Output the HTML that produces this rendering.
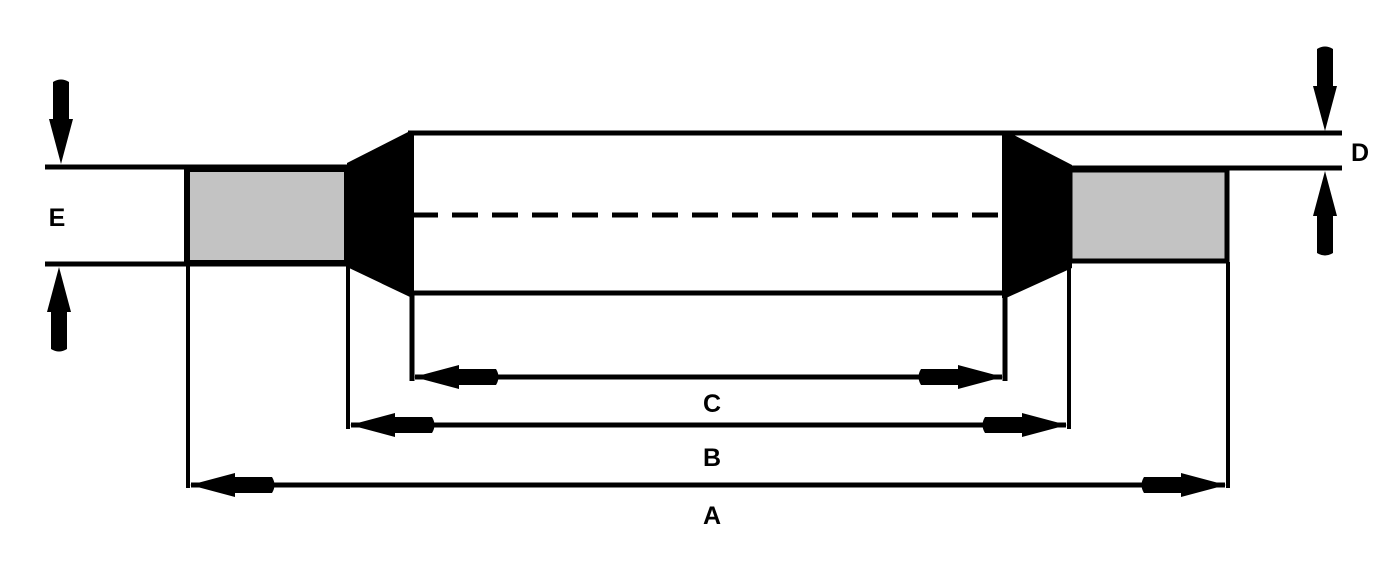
<!DOCTYPE html>
<html><head><style>html,body{margin:0;padding:0;background:#fff;}svg{display:block;}</style></head>
<body>
<svg width="1397" height="563" viewBox="0 0 1397 563" xmlns="http://www.w3.org/2000/svg">
<defs>
<path id="ar" d="M0,0 L-45,-12 L-45,-8 L-82,-8 Q-87,0 -82,8 L-45,8 L-45,12 Z" fill="#000"/>
</defs>
<g stroke="#000" fill="none">
<!-- E lines -->
<line x1="45" y1="167" x2="348" y2="167" stroke-width="5"/>
<line x1="45" y1="264" x2="348" y2="264" stroke-width="5"/>
<!-- left gray box -->
<rect x="187" y="169" width="160" height="94" fill="#c3c3c3" stroke-width="6"/>
<!-- right gray box -->
<rect x="1070" y="170" width="157" height="91" fill="#c3c3c3" stroke-width="5"/>
<!-- D lines -->
<line x1="1003" y1="133" x2="1342" y2="133" stroke-width="5"/>
<line x1="1068" y1="168" x2="1342" y2="168" stroke-width="5"/>
<!-- body -->
<line x1="408" y1="133" x2="1005" y2="133" stroke-width="5"/>
<line x1="408" y1="293" x2="1005" y2="293" stroke-width="5"/>
<line x1="412" y1="215" x2="1005" y2="215" stroke-width="5" stroke-dasharray="26,14"/>
<!-- extension lines -->
<line x1="188" y1="264" x2="188" y2="488" stroke-width="4"/>
<line x1="348" y1="264" x2="348" y2="429" stroke-width="4"/>
<line x1="412" y1="293" x2="412" y2="381" stroke-width="5"/>
<line x1="1005" y1="293" x2="1005" y2="381" stroke-width="5"/>
<line x1="1069" y1="262" x2="1069" y2="429" stroke-width="4"/>
<line x1="1228" y1="262" x2="1228" y2="488" stroke-width="4"/>
<!-- dim lines -->
<line x1="415" y1="377" x2="1002" y2="377" stroke-width="5"/>
<line x1="351" y1="425" x2="1066" y2="425" stroke-width="5"/>
<line x1="191" y1="485" x2="1225" y2="485" stroke-width="5"/>
</g>
<!-- cones -->
<polygon points="347,163 410,131 414,131 414,297 410,297 347,267" fill="#000"/>
<polygon points="1002,131 1006,131 1072,165 1072,268 1006,298 1002,298" fill="#000"/>
<!-- dim arrowheads -->
<use href="#ar" transform="translate(414,377) rotate(180)"/>
<use href="#ar" transform="translate(1003,377)"/>
<use href="#ar" transform="translate(350,425) rotate(180)"/>
<use href="#ar" transform="translate(1067,425)"/>
<use href="#ar" transform="translate(190,485) rotate(180)"/>
<use href="#ar" transform="translate(1226,485)"/>
<!-- vertical arrows -->
<use href="#ar" transform="translate(61,164) rotate(90)"/>
<use href="#ar" transform="translate(59,267) rotate(-90)"/>
<use href="#ar" transform="translate(1325,131) rotate(90)"/>
<use href="#ar" transform="translate(1325,171) rotate(-90)"/>
<g font-family="Liberation Sans, sans-serif" font-weight="bold" font-size="25" fill="#000" text-anchor="middle">
<text x="57" y="226">E</text>
<text x="1360" y="161">D</text>
<text x="712" y="412">C</text>
<text x="712" y="466">B</text>
<text x="712" y="524">A</text>
</g>
</svg>
</body></html>
